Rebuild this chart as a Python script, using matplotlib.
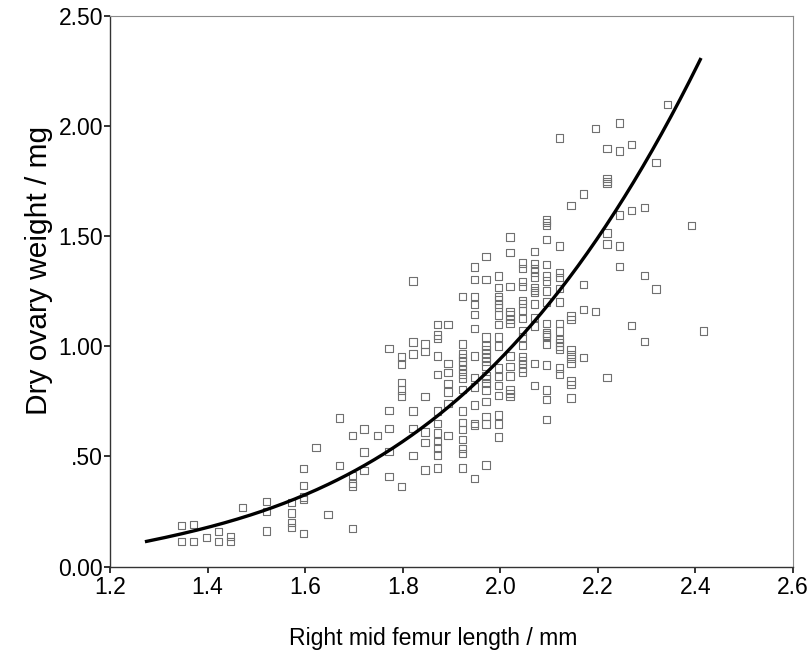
import numpy as np
import matplotlib
matplotlib.use('Agg')
import matplotlib.pyplot as plt
from matplotlib.ticker import FormatStrFormatter

# femur length columns (mm) and the ovary weights (mg) read at each of them
femur_cols = [1.347, 1.371, 1.398, 1.422, 1.447, 1.472, 1.521, 1.572, 1.597, 1.622,
              1.647, 1.671, 1.697, 1.721, 1.748, 1.772, 1.797, 1.821, 1.846, 1.871,
              1.893, 1.922, 1.947, 1.971, 1.996, 2.020, 2.045, 2.070, 2.095, 2.121,
              2.145, 2.170, 2.195, 2.219, 2.244, 2.269, 2.295, 2.319, 2.343, 2.392,
              2.417]
ovary_groups = [
    [0.185, 0.113],
    [0.192, 0.113],
    [0.131],
    [0.158, 0.113],
    [0.135, 0.113],
    [0.267],
    [0.296, 0.250, 0.161],
    [0.292, 0.243, 0.201, 0.176],
    [0.446, 0.369, 0.315, 0.304, 0.149],
    [0.540],
    [0.237],
    [0.675, 0.460],
    [0.596, 0.413, 0.377, 0.365, 0.172],
    [0.624, 0.520, 0.437],
    [0.596],
    [0.990, 0.709, 0.626, 0.522, 0.410],
    [0.952, 0.919, 0.836, 0.801, 0.775, 0.364],
    [1.296, 1.019, 0.965, 0.707, 0.626, 0.504],
    [1.010, 0.978, 0.771, 0.611, 0.564, 0.438],
    [1.099, 1.051, 1.037, 0.956, 0.872, 0.707, 0.649, 0.606, 0.567, 0.538, 0.506, 0.447],
    [1.099, 0.921, 0.882, 0.832, 0.792, 0.741, 0.595],
    [1.227, 1.010, 0.965, 0.950, 0.933, 0.915, 0.895, 0.874, 0.854, 0.804, 0.707, 0.653,
     0.623, 0.577, 0.537, 0.514, 0.447],
    [1.360, 1.304, 1.225, 1.190, 1.145, 1.081, 0.956, 0.859, 0.816, 0.733, 0.650, 0.639, 0.400],
    [1.409, 1.304, 1.043, 1.005, 0.987, 0.968, 0.950, 0.930, 0.911, 0.869, 0.854, 0.832,
     0.801, 0.748, 0.680, 0.647, 0.461],
    [1.319, 1.267, 1.225, 1.210, 1.190, 1.175, 1.142, 1.099, 1.043, 1.002, 0.902, 0.862,
     0.821, 0.778, 0.688, 0.647, 0.589],
    [1.497, 1.426, 1.273, 1.157, 1.142, 1.122, 1.104, 0.956, 0.907, 0.865, 0.801, 0.786, 0.771],
    [1.379, 1.354, 1.293, 1.273, 1.207, 1.195, 1.164, 1.127, 1.070, 1.043, 1.005, 0.952,
     0.937, 0.922, 0.902, 0.884],
    [1.432, 1.376, 1.354, 1.338, 1.315, 1.267, 1.255, 1.243, 1.192, 1.131, 1.092, 0.922, 0.821],
    [1.573, 1.561, 1.549, 1.485, 1.373, 1.319, 1.296, 1.251, 1.202, 1.104, 1.061, 1.051,
     1.043, 1.010, 0.915, 0.801, 0.759, 0.668],
    [1.946, 1.455, 1.336, 1.313, 1.263, 1.202, 1.104, 1.069, 1.031, 1.017, 1.001, 0.985,
     0.902, 0.875],
    [1.639, 1.138, 1.123, 0.985, 0.962, 0.945, 0.921, 0.843, 0.828, 0.766],
    [1.691, 1.281, 1.168, 0.950],
    [1.988, 1.158],
    [1.898, 1.762, 1.750, 1.739, 1.515, 1.464, 0.857],
    [2.014, 1.887, 1.596, 1.455, 1.364],
    [1.918, 1.618, 1.096],
    [1.631, 1.323, 1.022],
    [1.836, 1.260],
    [2.099],
    [1.550],
    [1.070],
]

# fitted curve
curve_x = [1.275, 1.4, 1.5, 1.6, 1.7, 1.8, 1.9, 2.0, 2.1, 2.2, 2.3, 2.41]
curve_y = [0.117, 0.176, 0.241, 0.325, 0.426, 0.565, 0.756, 0.94, 1.2, 1.48, 1.84, 2.31]

x_ticks = [1.2, 1.4, 1.6, 1.8, 2.0, 2.2, 2.4, 2.6]
y_ticks = [0.0, 0.5, 1.0, 1.5, 2.0, 2.5]
y_tick_labels = ['0.00', '.50', '1.00', '1.50', '2.00', '2.50']

femur = np.repeat(femur_cols, [len(g) for g in ovary_groups])
ovary = np.concatenate(ovary_groups)

# smooth the read curve with a cubic so it draws without kinks
coef = np.polyfit(curve_x, curve_y, 3)
xs = np.linspace(curve_x[0], curve_x[-1], 300)
ys = np.polyval(coef, xs)

plt.rcParams['font.family'] = ['Liberation Sans', 'DejaVu Sans']

fig = plt.figure(figsize=(8.11, 6.57), dpi=100)
ax = fig.add_axes([0.1356, 0.1377, 0.8422, 0.8379])

ax.scatter(femur, ovary, marker='s', s=28, facecolors='none',
           edgecolors='#707070', linewidths=0.8, zorder=2)
ax.plot(xs, ys, color='black', lw=2.4, zorder=3)

ax.set_xlim(1.2, 2.6)
ax.set_ylim(0, 2.5)
ax.set_xticks(x_ticks)
ax.xaxis.set_major_formatter(FormatStrFormatter('%.1f'))
ax.set_yticks(y_ticks)
ax.set_yticklabels(y_tick_labels)
ax.tick_params(direction='out', length=4, width=1.3, labelsize=16.5, color='#222222')
ax.tick_params(axis='y', pad=1)
ax.tick_params(axis='x', pad=3)

for side in ['left', 'bottom']:
    ax.spines[side].set_color('#333333')
    ax.spines[side].set_linewidth(1.0)
for side in ['top', 'right']:
    ax.spines[side].set_color('#8a8a8a')
    ax.spines[side].set_linewidth(0.8)

ax.set_xlabel('Right mid femur length / mm', fontsize=16.6, labelpad=20)
ax.xaxis.label.set_x(0.473)
ax.set_ylabel('Dry ovary weight / mg', fontsize=21.5, labelpad=4)
ax.yaxis.label.set_y(0.537)

fig.savefig('out.png', dpi=100)
